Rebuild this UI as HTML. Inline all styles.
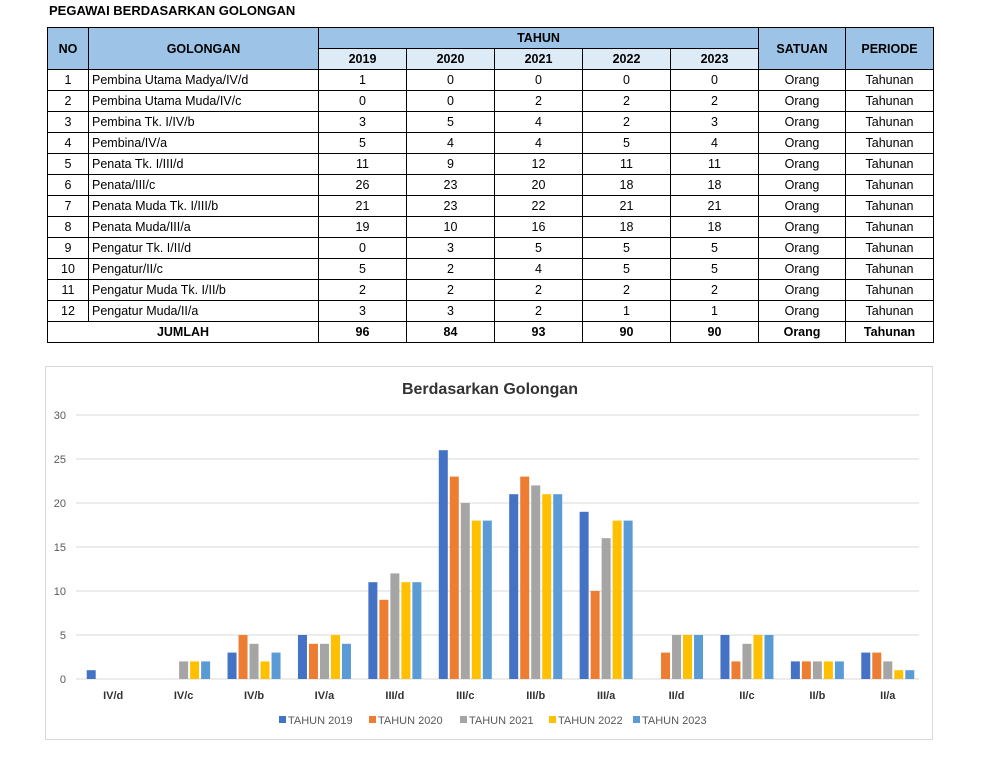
<!DOCTYPE html>
<html><head><meta charset="utf-8"><style>
body{margin:0;width:982px;height:760px;background:#fff;font-family:"Liberation Sans",sans-serif;position:relative;overflow:hidden}
#title{position:absolute;left:49px;top:3px;font-size:13px;font-weight:bold;color:#000}
table{position:absolute;left:47px;top:27px;border-collapse:collapse;font-size:12.5px;table-layout:fixed}
td,th{border:1px solid #000;padding:0;height:20px;text-align:center;white-space:nowrap}
th{background:#9dc3e6;font-weight:bold}
th.yr{background:#ddebf7}
td.l{text-align:left;padding-left:3px}
tr.tot td{font-weight:bold}
#chart{position:absolute;left:45px;top:366px;width:888px;height:374px;border:1px solid #d9d9d9;box-sizing:border-box}
</style></head><body>
<div id="title">PEGAWAI BERDASARKAN GOLONGAN</div>
<table>
<colgroup><col style="width:41px"><col style="width:230px"><col style="width:88px"><col style="width:88px"><col style="width:88px"><col style="width:88px"><col style="width:88px"><col style="width:87px"><col style="width:88px"></colgroup>
<tr><th rowspan="2">NO</th><th rowspan="2">GOLONGAN</th><th colspan="5">TAHUN</th><th rowspan="2">SATUAN</th><th rowspan="2">PERIODE</th></tr>
<tr><th class="yr">2019</th><th class="yr">2020</th><th class="yr">2021</th><th class="yr">2022</th><th class="yr">2023</th></tr>
<tbody id="tb"></tbody>
</table>
<svg id="chart" width="888" height="374"></svg>
<script>
const names=["Pembina Utama Madya/IV/d","Pembina Utama Muda/IV/c","Pembina Tk. I/IV/b","Pembina/IV/a","Penata Tk. I/III/d","Penata/III/c","Penata Muda Tk. I/III/b","Penata Muda/III/a","Pengatur Tk. I/II/d","Pengatur/II/c","Pengatur Muda Tk. I/II/b","Pengatur Muda/II/a"];
const categories=["IV/d","IV/c","IV/b","IV/a","III/d","III/c","III/b","III/a","II/d","II/c","II/b","II/a"];
const seriesNames=["TAHUN 2019","TAHUN 2020","TAHUN 2021","TAHUN 2022","TAHUN 2023"];
const s2019=[1,0,3,5,11,26,21,19,0,5,2,3];
const s2020=[0,0,5,4,9,23,23,10,3,2,2,3];
const s2021=[0,2,4,4,12,20,22,16,5,4,2,2];
const s2022=[0,2,2,5,11,18,21,18,5,5,2,1];
const s2023=[0,2,3,4,11,18,21,18,5,5,2,1];
const yTicks=[0,5,10,15,20,25,30];
const series=[s2019,s2020,s2021,s2022,s2023];
const colors=["#4472c4","#ed7d31","#a5a5a5","#ffc000","#5b9bd5"];
const tb=document.getElementById('tb');
let html='';
names.forEach((n,i)=>{html+=`<tr><td>${i+1}</td><td class="l">${n}</td>${series.map(s=>`<td>${s[i]}</td>`).join('')}<td>Orang</td><td>Tahunan</td></tr>`;});
const sums=series.map(s=>s.reduce((a,b)=>a+b,0));
html+=`<tr class="tot"><td colspan="2">JUMLAH</td>${sums.map(v=>`<td>${v}</td>`).join('')}<td>Orang</td><td>Tahunan</td></tr>`;
tb.innerHTML=html;
const svg=document.getElementById('chart');const NS="http://www.w3.org/2000/svg";
function mk(t,a,txt){const e=document.createElementNS(NS,t);for(const k in a)e.setAttribute(k,a[k]);if(txt!==undefined)e.textContent=txt;svg.appendChild(e);return e;}
// offsets relative to svg (left 45, top 366)
const x0=32,plotW=845,y0=312,yMax=30,plotH=264;
const y=v=>y0-v/yMax*plotH;
const catW=plotW/categories.length;
let t=mk('text',{x:444,y:27,'text-anchor':'middle','font-size':'16','font-weight':'bold',fill:'#333'},'Berdasarkan Golongan');

yTicks.forEach(v=>{
 let l=mk('line',{x1:30,x2:873,y1:y(v),y2:y(v),stroke:'#d9d9d9','stroke-width':1});
 
 let tx=mk('text',{x:20,y:y(v)+4,'text-anchor':'end','font-size':'11',fill:'#595959'},v);
 
});
const bw=9,gap=2,gw=5*bw+4*gap;
categories.forEach((c,i)=>{
 const cx=x0+catW*(i+0.5);
 series.forEach((s,j)=>{
  const v=s[i];
  let r=mk('rect',{x:cx-gw/2+j*(bw+gap),y:y(v),width:bw,height:y0-y(v),fill:colors[j]});
  
 });
 let tx=mk('text',{x:cx,y:y0+20,'text-anchor':'middle','font-size':'11','font-weight':'bold',fill:'#333'},c);
 
});
const lx=[233,323,414,503,587];
seriesNames.forEach((n,j)=>{
 let r=mk('rect',{x:lx[j],y:349,width:7,height:7,fill:colors[j]});
 
 let tx=mk('text',{x:lx[j]+9,y:357,'font-size':'11',fill:'#595959'},n);
 
});
</script>
</body></html>
